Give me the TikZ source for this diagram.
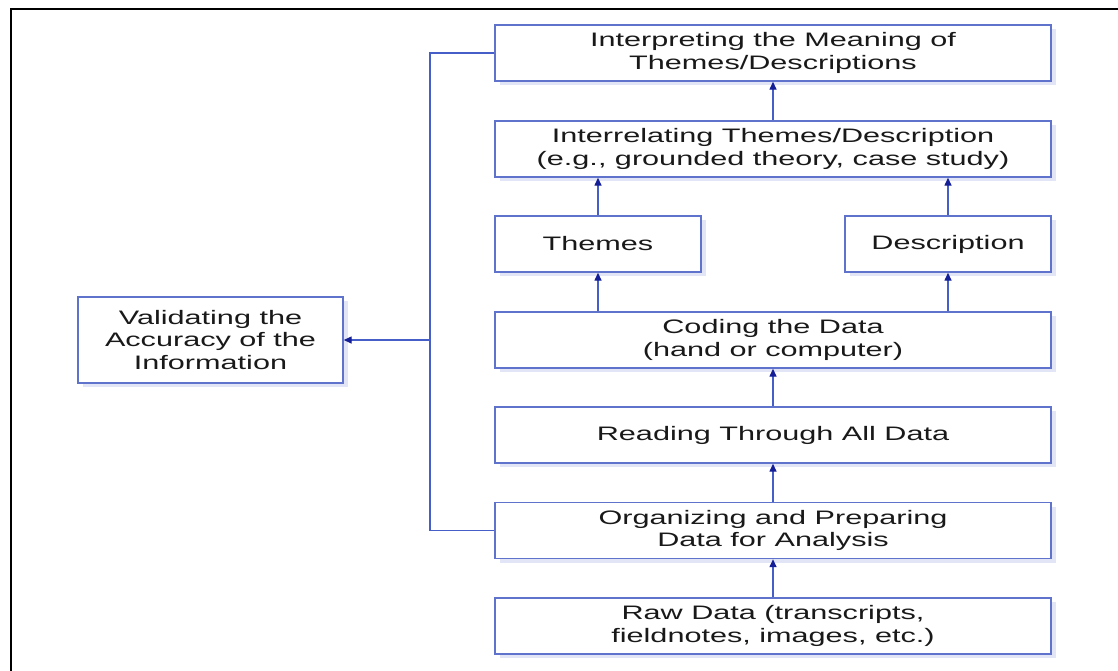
\documentclass[tikz,border=0pt]{standalone}
\usepackage{fontspec}
\newfontfamily\boxfont[FakeStretch=1.57]{Liberation Sans}
\usetikzlibrary{arrows.meta,shadows}
\definecolor{boxline}{RGB}{95,115,205}
\definecolor{connline}{RGB}{70,95,200}
\definecolor{tipcol}{RGB}{20,30,150}
\definecolor{shadowcol}{RGB}{225,229,245}
\definecolor{txtcol}{RGB}{25,25,25}
\tikzset{
  stepbox/.style={draw=boxline, line width=1.4pt, fill=white, align=center,
    text=txtcol, inner sep=0pt, minimum height=56pt,
    font=\boxfont\fontsize{19.5}{22.5}\selectfont,
    drop shadow={shadow xshift=5pt, shadow yshift=-4pt, fill=shadowcol, opacity=1}},
  widebox/.style={stepbox, minimum width=556pt},
  smallbox/.style={stepbox, minimum width=206pt},
  conn/.style={draw=connline, line width=1.4pt,
    -{Triangle[length=8pt,width=7pt,color=tipcol]}},
  plainline/.style={draw=connline, line width=1.4pt},
}
\begin{document}
\begin{tikzpicture}[x=1pt,y=-1pt]
\useasboundingbox (0,0) rectangle (1118,670);
\fill[white] (0,0) rectangle (1118,670);
% outer frame
\draw[black, line width=2.6pt] (11,672) -- (11,9) -- (1120,9);

\node[widebox] (interp) at (773,53) {Interpreting the Meaning of\\Themes/Descriptions};
\node[widebox] (interrel) at (773,149) {Interrelating Themes/Description\\(e.g., grounded theory, case study)};
\node[smallbox] (themes) at (598,244) {Themes};
\node[smallbox] (desc) at (948,244) {Description};
\node[widebox] (coding) at (773,340) {Coding the Data\\(hand or computer)};
\node[widebox] (reading) at (773,435) {Reading Through All Data};
\node[widebox] (organ) at (773,530.5) {Organizing and Preparing\\Data for Analysis};
\node[widebox] (raw) at (773,626) {Raw Data (transcripts,\\fieldnotes, images, etc.)};
\node[stepbox, minimum width=265pt, minimum height=86pt] (valid) at (210.5,340) {Validating the\\Accuracy of the\\Information};

\coordinate (fb) at (430,340);

\draw[conn] (raw.north) -- (organ.south);
\draw[conn] (organ.north) -- (reading.south);
\draw[conn] (reading.north) -- (coding.south);
\draw[conn] (coding.north -| themes.south) -- (themes.south);
\draw[conn] (coding.north -| desc.south) -- (desc.south);
\draw[conn] (themes.north) -- (themes.north |- interrel.south);
\draw[conn] (desc.north) -- (desc.north |- interrel.south);
\draw[conn] (interrel.north) -- (interp.south);

\draw[plainline] (interp.west) -- (interp.west -| fb) -- (organ.west -| fb) -- (organ.west);
\draw[conn] (fb) -- (valid.east);
\end{tikzpicture}
\end{document}
